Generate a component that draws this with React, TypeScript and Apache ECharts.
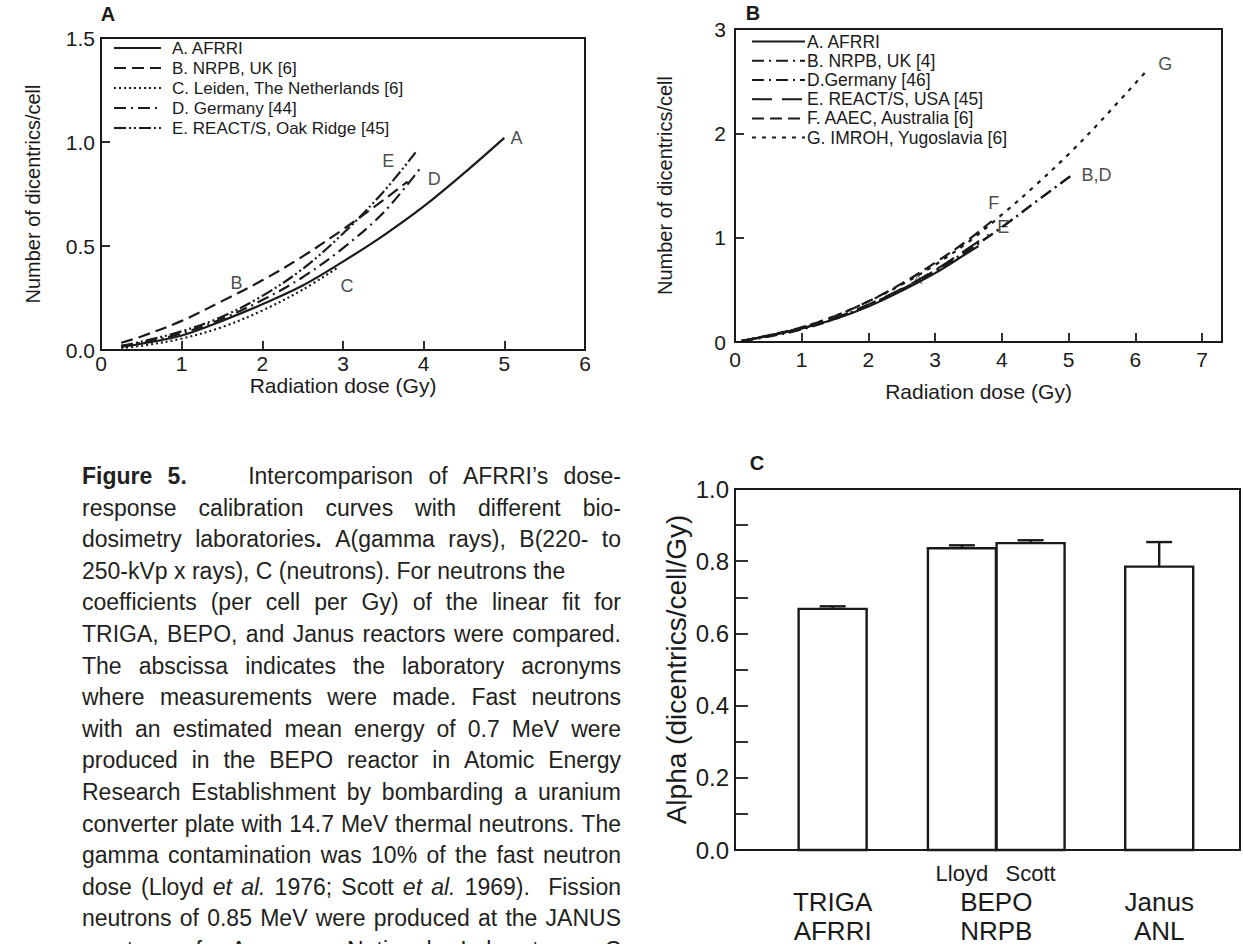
import React, { useEffect, useRef } from 'react';
import * as echarts from 'echarts';

const FONT = '"Liberation Sans", Arial, Helvetica, sans-serif';
const INK = '#1a1a1a';

// ---------------- Panel A (gamma rays) ----------------
const aSeriesNames = [
  'A. AFRRI',
  'B. NRPB, UK [6]',
  'C. Leiden, The Netherlands [6]',
  'D. Germany [44]',
  'E. REACT/S, Oak Ridge [45]',
];
const aAfrri = [[0.25, 0.015], [0.5, 0.03], [1, 0.07], [1.5, 0.14], [2, 0.22], [2.5, 0.31], [3, 0.425], [3.5, 0.55], [4, 0.69], [4.5, 0.85], [5, 1.02]];
const aNrpb = [[0.25, 0.035], [0.5, 0.065], [1, 0.14], [1.5, 0.235], [2, 0.335], [2.5, 0.45], [3, 0.58], [3.5, 0.72], [3.8, 0.81]];
const aLeiden = [[0.25, 0.01], [0.5, 0.02], [1, 0.055], [1.5, 0.11], [2, 0.19], [2.5, 0.29], [2.95, 0.4]];
const aGermany = [[0.25, 0.02], [0.5, 0.035], [1, 0.08], [1.5, 0.15], [2, 0.24], [2.5, 0.35], [3, 0.49], [3.5, 0.66], [3.95, 0.87]];
const aReact = [[0.25, 0.02], [0.5, 0.04], [1, 0.09], [1.5, 0.16], [2, 0.26], [2.5, 0.39], [3, 0.56], [3.5, 0.76], [3.9, 0.95]];
const aCurveLetters = ['A', 'B', 'C', 'D', 'E'];
const aLetterAt = [[5.15, 1.02], [1.68, 0.32], [3.05, 0.31], [4.13, 0.82], [3.56, 0.91]];

// ---------------- Panel B (x rays) ----------------
const bSeriesNames = [
  'A. AFRRI',
  'B. NRPB, UK [4]',
  'D.Germany [46]',
  'E. REACT/S, USA [45]',
  'F. AAEC, Australia [6]',
  'G. IMROH, Yugoslavia [6]',
];
const bAfrri = [[0.1, 0.01], [0.5, 0.06], [1, 0.13], [1.5, 0.22], [2, 0.34], [2.5, 0.49], [3, 0.66], [3.5, 0.86], [3.65, 0.92]];
const bNrpb = [[0.1, 0.01], [0.5, 0.05], [1, 0.12], [1.5, 0.22], [2, 0.35], [2.5, 0.5], [3, 0.68], [3.5, 0.88], [4, 1.1], [4.5, 1.34], [5.05, 1.6]];
const bGermany = [[0.1, 0.01], [0.5, 0.055], [1, 0.125], [1.5, 0.225], [2, 0.355], [2.5, 0.505], [3, 0.685], [3.5, 0.885], [4, 1.1], [4.5, 1.34], [5.05, 1.6]];
const bReact = [[0.1, 0.01], [0.5, 0.06], [1, 0.13], [1.5, 0.23], [2, 0.36], [2.5, 0.51], [3, 0.69], [3.5, 0.9], [3.8, 1.03]];
const bAaec = [[0.1, 0.01], [0.5, 0.065], [1, 0.14], [1.5, 0.25], [2, 0.39], [2.5, 0.56], [3, 0.76], [3.5, 0.98], [3.85, 1.16]];
const bImroh = [[0.1, 0.01], [0.5, 0.06], [1, 0.14], [1.5, 0.25], [2, 0.39], [2.5, 0.55], [3, 0.74], [3.5, 0.96], [4, 1.22], [4.5, 1.5], [5, 1.8], [5.5, 2.13], [6.2, 2.62]];
const bCurveLetters = ['G', 'B,D', 'F', 'E', 'A'];
const bLetterAt = [[6.45, 2.66], [5.42, 1.6], [3.88, 1.33], [4.02, 1.1], [2.74, 0.6]];

// ---------------- Panel C (neutrons) ----------------
const cBarNames = ['TRIGA AFRRI', 'BEPO Lloyd', 'BEPO Scott', 'Janus ANL'];
const cAlpha = [0.668, 0.836, 0.85, 0.785];
const cAlphaErr = [0.007, 0.008, 0.008, 0.068];
const cGroupLabels = [['TRIGA', 'AFRRI'], ['BEPO', 'NRPB'], ['Janus', 'ANL']];
const cSubLabels = ['', 'Lloyd', 'Scott', ''];

// layout (positions on panel C's x scale, not data)
const C_BAR_X = [1.45, 3.37, 4.39, 6.3];
const C_GROUP_X = [1.45, 3.88, 6.3];
const C_BAR_HALF = 0.505;

// ---------------- Caption ----------------
const captionLines = [
  '*Figure 5.*    Intercomparison of AFRRI\u2019s dose-',
  'response calibration curves with different bio-',
  'dosimetry laboratories*.* A(gamma rays), B(220- to',
  '250-kVp x rays), C (neutrons). For neutrons the',
  'coefficients (per cell per Gy) of the linear fit for',
  'TRIGA, BEPO, and Janus reactors were compared.',
  'The abscissa indicates the laboratory acronyms',
  'where measurements were made. Fast neutrons',
  'with an estimated mean energy of 0.7 MeV were',
  'produced in the BEPO reactor in Atomic Energy',
  'Research Establishment by bombarding a uranium',
  'converter plate with 14.7 MeV thermal neutrons. The',
  'gamma contamination was 10% of the fast neutron',
  'dose (Lloyd _et al._ 1976; Scott _et al._ 1969).  Fission',
  'neutrons of 0.85 MeV were produced at the JANUS',
  'reactor of Argonne National Laboratory. C',
];
const captionRagged = [3];

const CAP_SIZE = 23;
const CAP_LEFT = 82;
const CAP_RIGHT = 621;
const CAP_TOP = 476;
const CAP_STEP = 31.6;

type Piece = { t: string; b: boolean; i: boolean };
type Word = { pieces: Piece[]; gap: number };

function parseLine(s: string): Word[] {
  const words: Word[] = [];
  let bold = false;
  let ital = false;
  let cur: Word | null = null;
  let spaces = 0;
  for (const ch of s) {
    if (ch === '*') { bold = !bold; continue; }
    if (ch === '_') { ital = !ital; continue; }
    if (ch === ' ') {
      if (cur) { words.push(cur); cur = null; }
      spaces++;
      continue;
    }
    if (!cur) { cur = { pieces: [], gap: words.length ? spaces : 0 }; spaces = 0; }
    const last = cur.pieces[cur.pieces.length - 1];
    if (last && last.b === bold && last.i === ital) last.t += ch;
    else cur.pieces.push({ t: ch, b: bold, i: ital });
  }
  if (cur) words.push(cur);
  return words;
}

function buildCaption(): any[] {
  const canvas = document.createElement('canvas');
  const ctx = canvas.getContext('2d')!;
  const fontOf = (p: { b: boolean; i: boolean }) =>
    `${p.i ? 'italic ' : ''}${p.b ? 'bold ' : ''}${CAP_SIZE}px "Liberation Sans", Arial, sans-serif`;
  const measure = (t: string, p: { b: boolean; i: boolean }) => {
    ctx.font = fontOf(p);
    return ctx.measureText(t).width;
  };
  const spaceW = measure(' ', { b: false, i: false });
  const out: any[] = [];
  captionLines.forEach((line, li) => {
    const words = parseLine(line);
    const widths = words.map((w) => w.pieces.reduce((s, p) => s + measure(p.t, p), 0));
    const total = widths.reduce((s, v) => s + v, 0);
    const gapUnits = words.reduce((s, w) => s + w.gap, 0);
    const ragged = captionRagged.includes(li) || gapUnits === 0;
    const unit = ragged ? spaceW : (CAP_RIGHT - CAP_LEFT - total) / gapUnits;
    const y = CAP_TOP + li * CAP_STEP;
    let x = CAP_LEFT;
    words.forEach((w) => {
      x += w.gap * unit;
      w.pieces.forEach((p) => {
        out.push({
          type: 'text',
          x,
          y,
          silent: true,
          style: {
            text: p.t,
            fontSize: CAP_SIZE,
            fontFamily: FONT,
            fontWeight: p.b ? 'bold' : 'normal',
            fontStyle: p.i ? 'italic' : 'normal',
            fill: '#231f20',
            textAlign: 'left',
            align: 'left',
            textVerticalAlign: 'middle',
            verticalAlign: 'middle',
          },
        });
        x += measure(p.t, p);
      });
    });
  });
  return out;
}

const panelTitle = (t: string, x: number, y: number) => ({
  type: 'text',
  x,
  y,
  silent: true,
  style: {
    text: t,
    fontSize: 20,
    fontWeight: 'bold',
    fontFamily: FONT,
    fill: INK,
    textAlign: 'center',
    align: 'center',
    textVerticalAlign: 'middle',
    verticalAlign: 'middle',
  },
});

const lineSeries = (name: string, data: number[][], dash: any, axis: number) => ({
  name,
  type: 'line',
  xAxisIndex: axis,
  yAxisIndex: axis,
  data,
  smooth: 0.35,
  symbol: 'none',
  silent: true,
  lineStyle: { color: INK, width: 2.2, type: dash },
  itemStyle: { color: INK },
  z: 3,
});

const letterSeries = (letters: string[], at: number[][], axis: number, sizes?: number[]) => ({
  type: 'scatter',
  xAxisIndex: axis,
  yAxisIndex: axis,
  symbolSize: 1,
  silent: true,
  itemStyle: { color: 'rgba(0,0,0,0)' },
  data: letters.map((t, i) => ({
    value: at[i],
    name: t,
    label: sizes && sizes[i] ? { fontSize: sizes[i] } : undefined,
  })),
  label: { show: true, position: 'inside', formatter: '{b}', color: INK, fontSize: 18, fontFamily: FONT },
  z: 5,
});

const axisCommon = {
  axisLine: { show: true, lineStyle: { color: INK, width: 2 } },
  splitLine: { show: false },
};

function buildOption(): any {
  const bKeys = bSeriesNames.map((n) => n + '\u200B');
  const strip = (n: string) => n.replace(/\u200B/g, '');
  const DASH = [12, 6];
  const DOT = [2, 3];
  const DASHDOT = [12, 5, 2, 5];
  const DASHDOTDOT = [12, 3, 2, 3, 2, 3];
  const LONGDASH = [20, 10];
  const SHORTDASH = [4, 6];
  const hiddenSymbol = { opacity: 0, color: 'rgba(0,0,0,0)', borderWidth: 0 };
  const tick = { color: INK, width: 1.8 };

  return {
    animation: false,
    backgroundColor: '#ffffff',
    textStyle: { fontFamily: FONT, color: INK },
    grid: [
      { left: 101, top: 38, width: 484, height: 312, show: true, borderColor: INK, borderWidth: 2, containLabel: false, outerBoundsMode: 'none' },
      { left: 735, top: 29, width: 487, height: 313, show: true, borderColor: INK, borderWidth: 2, containLabel: false, outerBoundsMode: 'none' },
      { left: 735, top: 489, width: 505, height: 361, show: true, borderColor: INK, borderWidth: 2, containLabel: false, outerBoundsMode: 'none' },
    ],
    xAxis: [
      {
        ...axisCommon,
        gridIndex: 0, type: 'value', min: 0, max: 6, interval: 1,
        axisTick: { show: true, inside: true, length: 9, lineStyle: tick },
        axisLabel: { color: INK, fontSize: 21, fontFamily: FONT, margin: 3 },
        name: 'Radiation dose (Gy)', nameLocation: 'middle', nameGap: 24,
        nameTextStyle: { color: INK, fontSize: 21, fontFamily: FONT },
      },
      {
        ...axisCommon,
        gridIndex: 1, type: 'value', min: 0, max: 7.3, interval: 1,
        axisTick: { show: true, inside: true, length: 9, lineStyle: tick },
        axisLabel: {
          color: INK, fontSize: 21, fontFamily: FONT, margin: 7,
          formatter: (v: number) => (Math.abs(v - Math.round(v)) < 1e-6 ? String(Math.round(v)) : ''),
        },
        name: 'Radiation dose (Gy)', nameLocation: 'middle', nameGap: 39,
        nameTextStyle: { color: INK, fontSize: 21, fontFamily: FONT },
      },
      {
        ...axisCommon,
        gridIndex: 2, type: 'value', min: 0, max: 7.5,
        axisTick: { show: false },
        axisLabel: { show: false },
      },
    ],
    yAxis: [
      {
        ...axisCommon,
        gridIndex: 0, type: 'value', min: 0, max: 1.5, interval: 0.5,
        axisTick: { show: true, inside: true, length: 9, lineStyle: tick },
        axisLabel: { color: INK, fontSize: 21, fontFamily: FONT, margin: 6, formatter: (v: number) => v.toFixed(1) },
        name: 'Number of dicentrics/cell', nameLocation: 'middle', nameGap: 58,
        nameTextStyle: { color: INK, fontSize: 20, fontFamily: FONT },
      },
      {
        ...axisCommon,
        gridIndex: 1, type: 'value', min: 0, max: 3, interval: 1,
        axisTick: { show: true, inside: true, length: 9, lineStyle: tick },
        axisLabel: { color: INK, fontSize: 21, fontFamily: FONT, margin: 9 },
        name: 'Number of dicentrics/cell', nameLocation: 'middle', nameGap: 60,
        nameTextStyle: { color: INK, fontSize: 20, fontFamily: FONT },
      },
      {
        ...axisCommon,
        gridIndex: 2, type: 'value', min: 0, max: 1, interval: 0.1,
        axisTick: { show: true, inside: true, length: 13, lineStyle: tick },
        axisLabel: {
          color: INK, fontSize: 24, fontFamily: FONT, margin: 6,
          formatter: (v: number) => {
            const k = Math.round(v * 10);
            return k % 2 === 0 ? (k / 10).toFixed(1) : '';
          },
        },
        name: 'Alpha (dicentrics/cell/Gy)', nameLocation: 'middle', nameGap: 45,
        nameTextStyle: { color: INK, fontSize: 28, fontFamily: FONT },
      },
    ],
    legend: [
      {
        orient: 'vertical', left: 113, top: 38, padding: 0, itemGap: 0,
        itemWidth: 47, itemHeight: 16, selectedMode: false,
        data: aSeriesNames,
        itemStyle: hiddenSymbol,
        textStyle: { color: INK, fontSize: 17, fontFamily: FONT, lineHeight: 20, padding: [0, 0, 0, 6] },
      },
      {
        orient: 'vertical', left: 751, top: 32, padding: 0, itemGap: 0,
        itemWidth: 53, itemHeight: 16, selectedMode: false,
        data: bKeys,
        formatter: strip,
        itemStyle: hiddenSymbol,
        textStyle: { color: INK, fontSize: 17.5, fontFamily: FONT, lineHeight: 19.2, padding: [0, 0, 0, -3] },
      },
    ],
    series: [
      lineSeries(aSeriesNames[0], aAfrri, 'solid', 0),
      lineSeries(aSeriesNames[1], aNrpb, DASH, 0),
      lineSeries(aSeriesNames[2], aLeiden, DOT, 0),
      lineSeries(aSeriesNames[3], aGermany, DASHDOT, 0),
      lineSeries(aSeriesNames[4], aReact, DASHDOTDOT, 0),
      letterSeries(aCurveLetters, aLetterAt, 0),

      lineSeries(bKeys[0], bAfrri, 'solid', 1),
      lineSeries(bKeys[1], bNrpb, DASHDOT, 1),
      lineSeries(bKeys[2], bGermany, DASHDOT, 1),
      lineSeries(bKeys[3], bReact, LONGDASH, 1),
      lineSeries(bKeys[4], bAaec, DASH, 1),
      lineSeries(bKeys[5], bImroh, SHORTDASH, 1),
      letterSeries(bCurveLetters, bLetterAt, 1, [0, 0, 0, 0, 13]),

      {
        name: 'Alpha',
        type: 'custom',
        xAxisIndex: 2,
        yAxisIndex: 2,
        silent: true,
        clip: false,
        data: cAlpha.map((v, i) => ({ name: cBarNames[i], value: [C_BAR_X[i], v, cAlphaErr[i]] })),
        renderItem: (params: any, api: any) => {
          const x = api.value(0);
          const y = api.value(1);
          const e = api.value(2);
          const p0 = api.coord([x - C_BAR_HALF, 0]);
          const p1 = api.coord([x + C_BAR_HALF, y]);
          const pt = api.coord([x, y]);
          const pe = api.coord([x, y + e]);
          const ls = { stroke: INK, lineWidth: 2.4, fill: null };
          return {
            type: 'group',
            children: [
              { type: 'rect', shape: { x: p0[0], y: p1[1], width: p1[0] - p0[0], height: p0[1] - p1[1] }, style: { fill: '#fff', stroke: INK, lineWidth: 2.4 } },
              { type: 'line', shape: { x1: pt[0], y1: pt[1], x2: pe[0], y2: pe[1] }, style: ls },
              { type: 'line', shape: { x1: pe[0] - 13, y1: pe[1], x2: pe[0] + 13, y2: pe[1] }, style: ls },
            ],
          };
        },
        z: 3,
      },
      {
        name: 'Sub labels',
        type: 'custom',
        xAxisIndex: 2,
        yAxisIndex: 2,
        silent: true,
        clip: false,
        data: C_BAR_X.map((x, i) => ({ name: cSubLabels[i], value: [x, 0] })),
        renderItem: (params: any, api: any) => {
          const p = api.coord([api.value(0), 0]);
          const t = cSubLabels[params.dataIndex];
          return {
            type: 'text',
            x: p[0],
            y: p[1] + 23,
            style: { text: t, fontSize: 22, fontFamily: FONT, fill: INK, textAlign: 'center', align: 'center', textVerticalAlign: 'middle', verticalAlign: 'middle' },
          };
        },
      },
      {
        name: 'Group labels',
        type: 'custom',
        xAxisIndex: 2,
        yAxisIndex: 2,
        silent: true,
        clip: false,
        data: C_GROUP_X.map((x, i) => ({ name: cGroupLabels[i].join(' '), value: [x, 0] })),
        renderItem: (params: any, api: any) => {
          const p = api.coord([api.value(0), 0]);
          const lab = cGroupLabels[params.dataIndex];
          const st = (t: string) => ({ text: t, fontSize: 26, fontFamily: FONT, fill: INK, textAlign: 'center', align: 'center', textVerticalAlign: 'middle', verticalAlign: 'middle' });
          return {
            type: 'group',
            children: [
              { type: 'text', x: p[0], y: p[1] + 52, style: st(lab[0]) },
              { type: 'text', x: p[0], y: p[1] + 81, style: st(lab[1]) },
            ],
          };
        },
      },
    ],
    graphic: [
      panelTitle('A', 108, 14),
      panelTitle('B', 753, 13),
      panelTitle('C', 757, 463),
      ...buildCaption(),
    ],
  };
}

export default function App() {
  const ref = useRef<HTMLDivElement>(null);
  useEffect(() => {
    const el = ref.current;
    if (!el) return;
    const chart = echarts.init(el, null, { renderer: 'svg' });
    chart.setOption(buildOption());
    return () => chart.dispose();
  }, []);
  return (
    <div
      ref={ref}
      style={{ position: 'absolute', left: 0, top: 0, width: 1243, height: 944, background: '#fff' }}
    />
  );
}
